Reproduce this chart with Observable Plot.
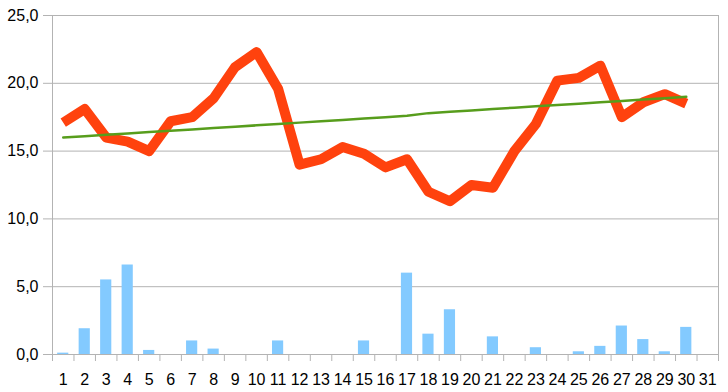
<!DOCTYPE html>
<html><head><meta charset="utf-8">
<script src="https://cdn.jsdelivr.net/npm/d3@7"></script>
<script src="https://cdn.jsdelivr.net/npm/@observablehq/plot@0.6"></script>
<style>
body{margin:0;background:#fff;}
#chart svg{display:block;}
</style>
</head><body><div id="chart"></div>
<script>
const days = [1,2,3,4,5,6,7,8,9,10,11,12,13,14,15,16,17,18,19,20,21,22,23,24,25,26,27,28,29,30,31];
const rain = [0.1,1.9,5.5,6.6,0.3,0,1.0,0.4,0,0,1.0,0,0,0,1.0,0,6.0,1.5,3.3,0,1.3,0,0.5,0,0.2,0.6,2.1,1.1,0.2,2.0,0];
const temp = [17.1,18.1,16.0,15.7,15.0,17.2,17.5,18.9,21.2,22.3,19.6,14.0,14.4,15.3,14.8,13.8,14.4,12.0,11.3,12.5,12.3,15.0,17.0,20.2,20.4,21.3,17.5,18.6,19.2,18.5];
const trend = [16.0,16.1,16.2,16.3,16.4,16.5,16.6,16.7,16.8,16.9,17.0,17.1,17.2,17.3,17.4,17.5,17.6,17.8,17.9,18.0,18.1,18.2,18.3,18.4,18.5,18.6,18.7,18.8,18.9,19.0];
const yTicks = [0,5,10,15,20,25];

const W = 728, H = 392, ML = 52, MR = 10, MT = 15, MB = 38;
const step = (W - ML - MR) / days.length;
const grey = "#b3b3b3";

const barData = days.map((d,i) => ({day: d, v: rain[i]}));
const tempData = temp.map((v,i) => ({day: days[i], v}));
const trendData = trend.map((v,i) => ({day: days[i], v}));

const chart = Plot.plot({
  width: W, height: H,
  marginLeft: ML, marginRight: MR, marginTop: MT, marginBottom: MB,
  style: {fontFamily: "'Liberation Sans', Arial, sans-serif", fontSize: "16px", color: "#000", background: "#fff"},
  x: {type: "band", domain: days, paddingInner: 0.48, paddingOuter: 0.24, round: false},
  y: {domain: [0, 25]},
  marks: [
    Plot.gridY(yTicks, {stroke: grey, strokeOpacity: 1}),
    Plot.frame({anchor: "left", stroke: grey, strokeOpacity: 1}),
    Plot.frame({anchor: "right", stroke: grey, strokeOpacity: 1}),
    Plot.axisY(yTicks, {tickSize: 9, tickPadding: 5, stroke: grey, fill: "#000", fontSize: 16,
      tickFormat: d => d.toFixed(1).replace(".", ","), label: null}),
    Plot.axisX({tickSize: 7, dx: -step/2, text: null, stroke: grey, label: null}),
    Plot.axisX([31], {tickSize: 7, dx: step/2, text: null, stroke: grey, label: null}),
    Plot.axisX({tickSize: 0, tickPadding: 19, fill: "#000", fontSize: 16, label: null}),
    Plot.barY(barData, {x: "day", y: "v", fill: "#83caff"}),
    Plot.ruleY([0], {stroke: grey}),
    Plot.lineY(tempData, {x: "day", y: "v", stroke: "#ff420e", strokeWidth: 10, strokeLinejoin: "round", strokeLinecap: "butt"}),
    Plot.lineY(trendData, {x: "day", y: "v", stroke: "#579d1c", strokeWidth: 2.5})
  ]
});
document.getElementById("chart").appendChild(chart);
</script>
</body></html>
